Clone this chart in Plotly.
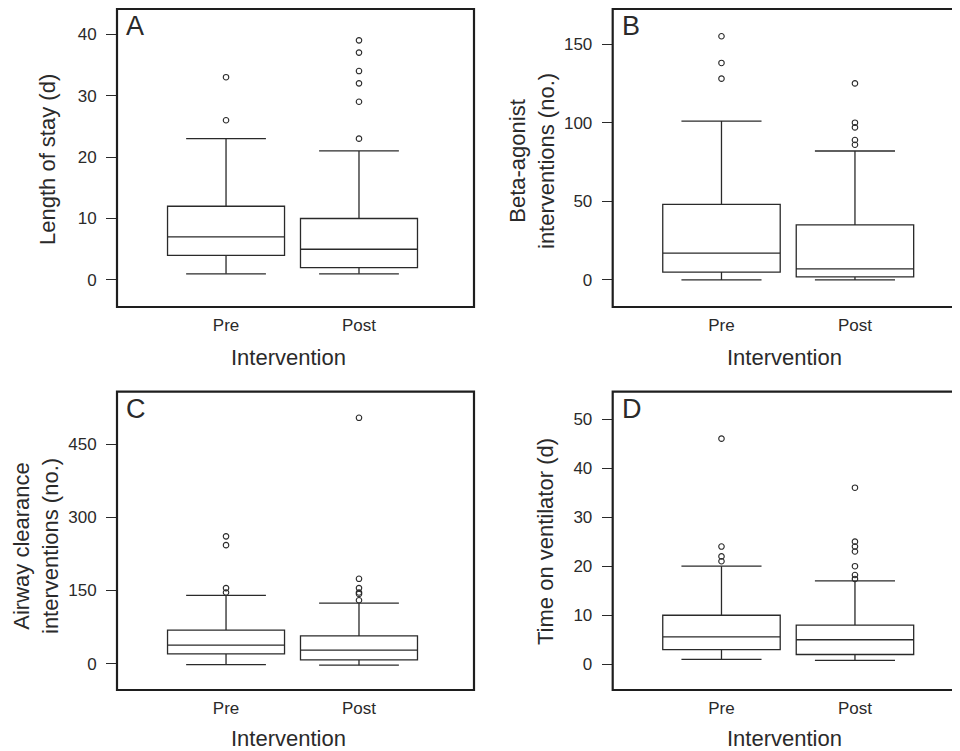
import plotly.graph_objects as go

# ---------------- data ----------------
categories = ["Pre", "Post"]
positions = [1, 2]

# Panel A: Length of stay (d)
A_q1 = [4, 2]
A_median = [7, 5]
A_q3 = [12, 10]
A_lower = [1, 1]
A_upper = [23, 21]
A_out_pre = [26, 33]
A_out_post = [23, 29, 32, 34, 37, 39]

# Panel B: Beta-agonist interventions (no.)
B_q1 = [5, 2]
B_median = [17, 7]
B_q3 = [48, 35]
B_lower = [0, 0]
B_upper = [101, 82]
B_out_pre = [128, 138, 155]
B_out_post = [86, 89, 97, 100, 125]

# Panel C: Airway clearance interventions (no.)
C_q1 = [20, 8]
C_median = [38, 28]
C_q3 = [69, 57]
C_lower = [-2, -3]
C_upper = [140, 124]
C_out_pre = [146, 155, 243, 261]
C_out_post = [130, 143, 146, 155, 174, 504]

# Panel D: Time on ventilator (d)
D_q1 = [3, 2]
D_median = [5.6, 5]
D_q3 = [10, 8]
D_lower = [1, 0.8]
D_upper = [20, 17]
D_out_pre = [21, 22, 24, 46]
D_out_post = [17.4, 18.2, 20, 23, 24, 25, 36]

# y tick labels
A_ticks = [0, 10, 20, 30, 40]
B_ticks = [0, 50, 100, 150]
C_ticks = [0, 150, 300, 450]
D_ticks = [0, 10, 20, 30, 40, 50]

# ---------------- styling ----------------
FONT = "Liberation Sans, Arial, Helvetica, sans-serif"
INK = "#2a2a2a"
OFF = 8                      # page body margin in the browser
W, H = 960 - OFF, 751 - OFF  # figure size so that it fills the window

def px_x(p):
    return (p - OFF) / W

def px_y(p):
    return 1 - (p - OFF) / H

panels = [
    dict(letter="A", ax="", q1=A_q1, med=A_median, q3=A_q3, lo=A_lower, hi=A_upper,
         op=A_out_pre, opo=A_out_post, ticks=A_ticks, yr=[-4.4, 44.1],
         xdom=[117, 474], ydom=[9, 307], xr=[0.18, 2.865],
         ytitle="Length of stay (d)", yt_xy=(47, 160), xt_xy=(288, 357)),
    dict(letter="B", ax="2", q1=B_q1, med=B_median, q3=B_q3, lo=B_lower, hi=B_upper,
         op=B_out_pre, opo=B_out_post, ticks=B_ticks, yr=[-17.2, 172.3],
         xdom=[612.7, 960], ydom=[9, 307], xr=[0.185, 2.787],
         ytitle="Beta-agonist<br>interventions (no.)", yt_xy=(532, 161), xt_xy=(784, 357)),
    dict(letter="C", ax="3", q1=C_q1, med=C_median, q3=C_q3, lo=C_lower, hi=C_upper,
         op=C_out_pre, opo=C_out_post, ticks=C_ticks, yr=[-53.9, 557.5],
         xdom=[117, 474], ydom=[391.7, 690], xr=[0.18, 2.865],
         ytitle="Airway clearance<br>interventions (no.)", yt_xy=(36, 546), xt_xy=(288, 738)),
    dict(letter="D", ax="4", q1=D_q1, med=D_median, q3=D_q3, lo=D_lower, hi=D_upper,
         op=D_out_pre, opo=D_out_post, ticks=D_ticks, yr=[-5.24, 55.57],
         xdom=[612.7, 960], ydom=[391.7, 690], xr=[0.185, 2.787],
         ytitle="Time on ventilator (d)", yt_xy=(545, 542), xt_xy=(784, 738)),
]

BOX_W = 0.88
CAP_HALF = 0.3

fig = go.Figure()
shapes = []
annotations = []
layout = {}

for p in panels:
    xa = "x" + p["ax"]
    ya = "y" + p["ax"]
    # boxes
    fig.add_trace(go.Box(
        x=positions, q1=p["q1"], median=p["med"], q3=p["q3"],
        lowerfence=p["lo"], upperfence=p["hi"],
        width=BOX_W, fillcolor="white", boxpoints=False,
        line=dict(color=INK, width=1.3), whiskerwidth=0,
        xaxis=xa, yaxis=ya, showlegend=False, hoverinfo="skip"))
    # whisker caps
    cx, cy = [], []
    for pos, lo, hi in zip(positions, p["lo"], p["hi"]):
        for v in (lo, hi):
            cx += [pos - CAP_HALF, pos + CAP_HALF, None]
            cy += [v, v, None]
    fig.add_trace(go.Scatter(x=cx, y=cy, mode="lines",
                             line=dict(color=INK, width=1.3),
                             xaxis=xa, yaxis=ya, showlegend=False, hoverinfo="skip"))
    # outliers
    ox = [positions[0]] * len(p["op"]) + [positions[1]] * len(p["opo"])
    oy = list(p["op"]) + list(p["opo"])
    fig.add_trace(go.Scatter(x=ox, y=oy, mode="markers",
                             marker=dict(symbol="circle-open", size=5.5, color=INK,
                                         line=dict(width=1.1, color=INK)),
                             xaxis=xa, yaxis=ya, showlegend=False, hoverinfo="skip"))

    xkey = "xaxis" + p["ax"]
    ykey = "yaxis" + p["ax"]
    layout[xkey] = dict(
        domain=[max(0.0, px_x(p["xdom"][0])), min(1.0, px_x(p["xdom"][1]))],
        range=p["xr"], anchor=ya, tickmode="array", tickvals=positions,
        ticktext=categories, ticks="", showgrid=False, zeroline=False,
        showline=False, ticklabelstandoff=6,
        tickfont=dict(family=FONT, size=17, color=INK), fixedrange=True)
    layout[ykey] = dict(
        domain=[px_y(p["ydom"][1]), px_y(p["ydom"][0])],
        range=p["yr"], anchor=xa, tickmode="array", tickvals=p["ticks"],
        ticktext=[str(t) for t in p["ticks"]],
        ticks="outside", ticklen=10, tickwidth=1.3, tickcolor=INK,
        showgrid=False, zeroline=False, showline=False, ticklabelstandoff=6,
        tickfont=dict(family=FONT, size=17, color=INK), fixedrange=True)

    # frame
    x1 = 1.0 if p["xdom"][1] < 960 else 1.05
    shapes.append(dict(type="rect", xref=xa + " domain", yref=ya + " domain",
                       x0=0, x1=x1, y0=0, y1=1,
                       line=dict(color="#1e1e1e", width=2.2), fillcolor="rgba(0,0,0,0)"))
    # panel letter
    annotations.append(dict(text=p["letter"], xref=xa + " domain", yref=ya + " domain",
                            x=0, y=1, xanchor="left", yanchor="top", xshift=7, yshift=0,
                            showarrow=False, font=dict(family=FONT, size=27, color=INK)))
    # y title
    annotations.append(dict(text=p["ytitle"], xref="paper", yref="paper",
                            x=px_x(p["yt_xy"][0]), y=px_y(p["yt_xy"][1]),
                            xanchor="center", yanchor="middle", textangle=-90,
                            showarrow=False, font=dict(family=FONT, size=22, color=INK)))
    # x title
    annotations.append(dict(text="Intervention", xref="paper", yref="paper",
                            x=px_x(p["xt_xy"][0]), y=px_y(p["xt_xy"][1]),
                            xanchor="center", yanchor="middle",
                            showarrow=False, font=dict(family=FONT, size=22, color=INK)))

fig.update_layout(
    width=W, height=H,
    margin=dict(l=0, r=0, t=0, b=0),
    paper_bgcolor="white", plot_bgcolor="white",
    shapes=shapes, annotations=annotations,
    boxmode="overlay",
    **layout)

fig.write_html("out.html", config={"displayModeBar": False})
